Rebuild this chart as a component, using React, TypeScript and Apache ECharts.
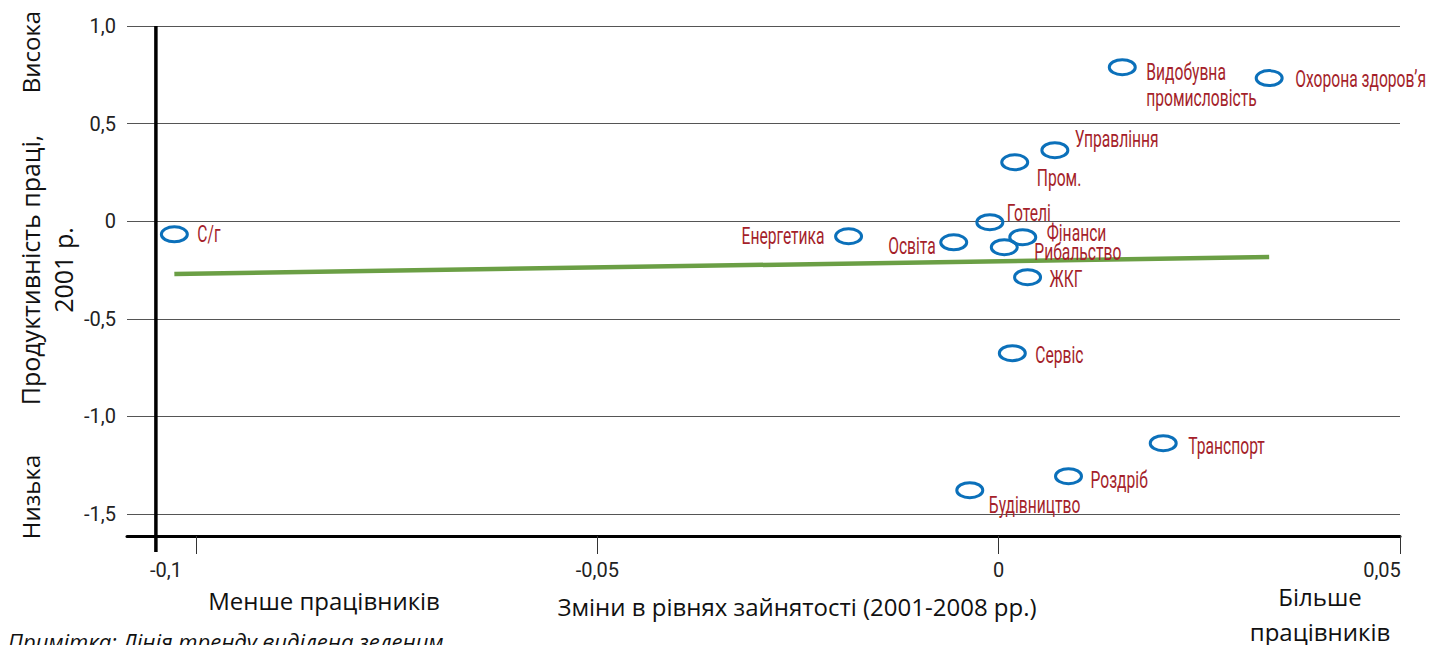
import { useEffect, useRef } from "react";
import * as echarts from "echarts";

// Sectors (names), employment change 2001-2008 (x) and labour productivity 2001 (y)
const sectors = [
  "С/г",
  "Енергетика",
  "Освіта",
  "Готелі",
  "Рибальство",
  "Фінанси",
  "ЖКГ",
  "Сервіс",
  "Пром.",
  "Управління",
  "Видобувна\nпромисловість",
  "Охорона здоров’я",
  "Транспорт",
  "Роздріб",
  "Будівництво",
];
const employmentChange = [
  -0.1027, -0.0187, -0.0056, -0.0011, 0.0007, 0.003, 0.0036, 0.0017, 0.002, 0.007, 0.0154, 0.0337, 0.0205,
  0.0087, -0.0036,
];
const productivity = [
  -0.067, -0.077, -0.108, -0.005, -0.133, -0.082, -0.287, -0.676, 0.302, 0.364, 0.789, 0.733, -1.137, -1.306,
  -1.378,
];

// Trend line end points
const trendX = [-0.1027, 0.0337];
const trendY = [-0.27, -0.184];

// Axis ticks
const xTicks = [-0.1, -0.05, 0, 0.05];

// Vertical axis rule position (at the left edge of the plot)
const ruleX = -0.105;
const ruleY = [1.0, -1.695];

// Label placement relative to marker centre, in pixels (style only)
const labelPlacement: { dx: number; dy: number; align: string }[] = [
  { dx: 23, dy: 0, align: "left" },
  { dx: -24, dy: 0, align: "right" },
  { dx: -18, dy: 4, align: "right" },
  { dx: 17, dy: -9, align: "left" },
  { dx: 30, dy: 5, align: "left" },
  { dx: 24, dy: -4, align: "left" },
  { dx: 22, dy: 2, align: "left" },
  { dx: 23, dy: 2, align: "left" },
  { dx: 22, dy: 16, align: "left" },
  { dx: 20, dy: -11, align: "left" },
  { dx: 24, dy: 18, align: "left" },
  { dx: 26, dy: 1, align: "left" },
  { dx: 25, dy: 3, align: "left" },
  { dx: 22, dy: 4, align: "left" },
  { dx: 19, dy: 15, align: "left" },
];

const LABEL_FONT = "23px Roboto, 'Noto Sans', sans-serif";
const LABEL_SX = 0.68;
const NUM_FONT = "Roboto, 'Noto Sans', sans-serif";
const SANS = "'Open Sans', 'Noto Sans', sans-serif";
const RED = "#A51F2B";
const BLUE = "#0B70BA";
const GREEN = "#6B9F45";

const fmt = (v: number) => (v === 0 ? "0" : String(v).replace(".", ","));
const fmtY = (v: number) => (v === 0 ? "0" : v.toFixed(1).replace(".", ","));

export default function App() {
  const ref = useRef<HTMLDivElement>(null);

  useEffect(() => {
    if (!ref.current) return;
    const chart = echarts.init(ref.current, null, { renderer: "svg" });

    const points = sectors.map((name, i) => ({
      name,
      value: [employmentChange[i], productivity[i]],
    }));

    chart.setOption({
      animation: false,
      backgroundColor: "#ffffff",
      grid: { left: 127, right: 39, top: 26, bottom: 131, containLabel: false },
      xAxis: {
        type: "value",
        min: -0.1086,
        max: 0.05,
        offset: 22,
        axisLine: { show: true, onZero: false, lineStyle: { color: "#000", width: 3 } },
        axisTick: {
          show: true,
          customValues: xTicks,
          length: 18,
          lineStyle: { color: "#333", width: 1 },
        },
        axisLabel: {
          customValues: xTicks,
          margin: 24,
          fontFamily: NUM_FONT,
          fontSize: 20,
          color: "#222",
          formatter: (v: number) => {
            if (v === -0.1) return "{a|" + fmt(v) + "}";
            if (v === 0.05) return "{b|" + fmt(v) + "}";
            return fmt(v);
          },
          rich: {
            a: { fontFamily: NUM_FONT, fontSize: 20, color: "#222", padding: [0, 60, 0, 0] },
            b: { fontFamily: NUM_FONT, fontSize: 20, color: "#222", padding: [0, 36, 0, 0] },
          },
        },
        splitLine: { show: false },
      },
      yAxis: {
        type: "value",
        min: -1.5,
        max: 1.0,
        interval: 0.5,
        axisLine: { show: false },
        axisTick: { show: false },
        axisLabel: {
          margin: 11,
          fontFamily: NUM_FONT,
          fontSize: 20,
          color: "#222",
          formatter: (v: number) => fmtY(v),
        },
        splitLine: { show: true, lineStyle: { color: "#555", width: 1 } },
      },
      series: [
        {
          type: "line",
          data: ruleY.map((y) => [ruleX, y]),
          symbol: "none",
          clip: false,
          lineStyle: { color: "#000", width: 3.5 },
          silent: true,
          z: 1,
        },
        {
          type: "line",
          data: trendX.map((x, i) => [x, trendY[i]]),
          symbol: "none",
          lineStyle: { color: GREEN, width: 4.5 },
          silent: true,
          z: 2,
        },
        {
          type: "custom",
          data: points,
          clip: false,
          z: 3,
          renderItem: (params: any, api: any) => {
            const i = params.dataIndex;
            const p = api.coord([api.value(0), api.value(1)]);
            const lp = labelPlacement[i];
            return {
              type: "group",
              children: [
                {
                  type: "ellipse",
                  shape: { cx: p[0], cy: p[1], rx: 13, ry: 7.5 },
                  style: { fill: "none", stroke: BLUE, lineWidth: 3 },
                },
                {
                  type: "text",
                  x: p[0] + lp.dx,
                  y: p[1] + lp.dy,
                  scaleX: LABEL_SX,
                  style: {
                    text: sectors[i],
                    font: LABEL_FONT,
                    fill: RED,
                    align: lp.align,
                    verticalAlign: "middle",
                    lineHeight: 26,
                  },
                },
              ],
            };
          },
        },
      ],
      graphic: [
        {
          type: "text",
          x: 30,
          y: 52,
          rotation: Math.PI / 2,
          style: {
            text: "Висока",
            font: `24px ${SANS}`,
            fill: "#111",
            align: "center",
            verticalAlign: "middle",
          },
        },
        {
          type: "text",
          x: 30,
          y: 497,
          rotation: Math.PI / 2,
          style: {
            text: "Низька",
            font: `24px ${SANS}`,
            fill: "#111",
            align: "center",
            verticalAlign: "middle",
          },
        },
        {
          type: "text",
          x: 46,
          y: 270,
          rotation: Math.PI / 2,
          style: {
            text: "Продуктивність праці,\n2001 р.",
            font: `25px ${SANS}`,
            lineHeight: 33,
            fill: "#111",
            align: "center",
            verticalAlign: "middle",
          },
        },
        {
          type: "text",
          x: 324,
          y: 600,
          style: {
            text: "Менше працівників",
            font: `24px ${SANS}`,
            fill: "#111",
            align: "center",
            verticalAlign: "middle",
          },
        },
        {
          type: "text",
          x: 797,
          y: 606,
          style: {
            text: "Зміни в рівнях зайнятості (2001-2008 рр.)",
            font: `24px ${SANS}`,
            fill: "#111",
            align: "center",
            verticalAlign: "middle",
          },
        },
        {
          type: "text",
          x: 1320,
          y: 614,
          style: {
            text: "Більше\nпрацівників",
            font: `24px ${SANS}`,
            lineHeight: 35,
            fill: "#111",
            align: "center",
            verticalAlign: "middle",
          },
        },
        {
          type: "text",
          x: 8,
          y: 641,
          style: {
            text: "Примітка: Лінія тренду виділена зеленим",
            font: `italic 22px ${SANS}`,
            fill: "#111",
            align: "left",
            verticalAlign: "middle",
          },
        },
      ],
    });

    return () => chart.dispose();
  }, []);

  return (
    <div
      ref={ref}
      style={{ position: "absolute", left: 0, top: 0, width: 1439, height: 645, background: "#fff" }}
    />
  );
}
